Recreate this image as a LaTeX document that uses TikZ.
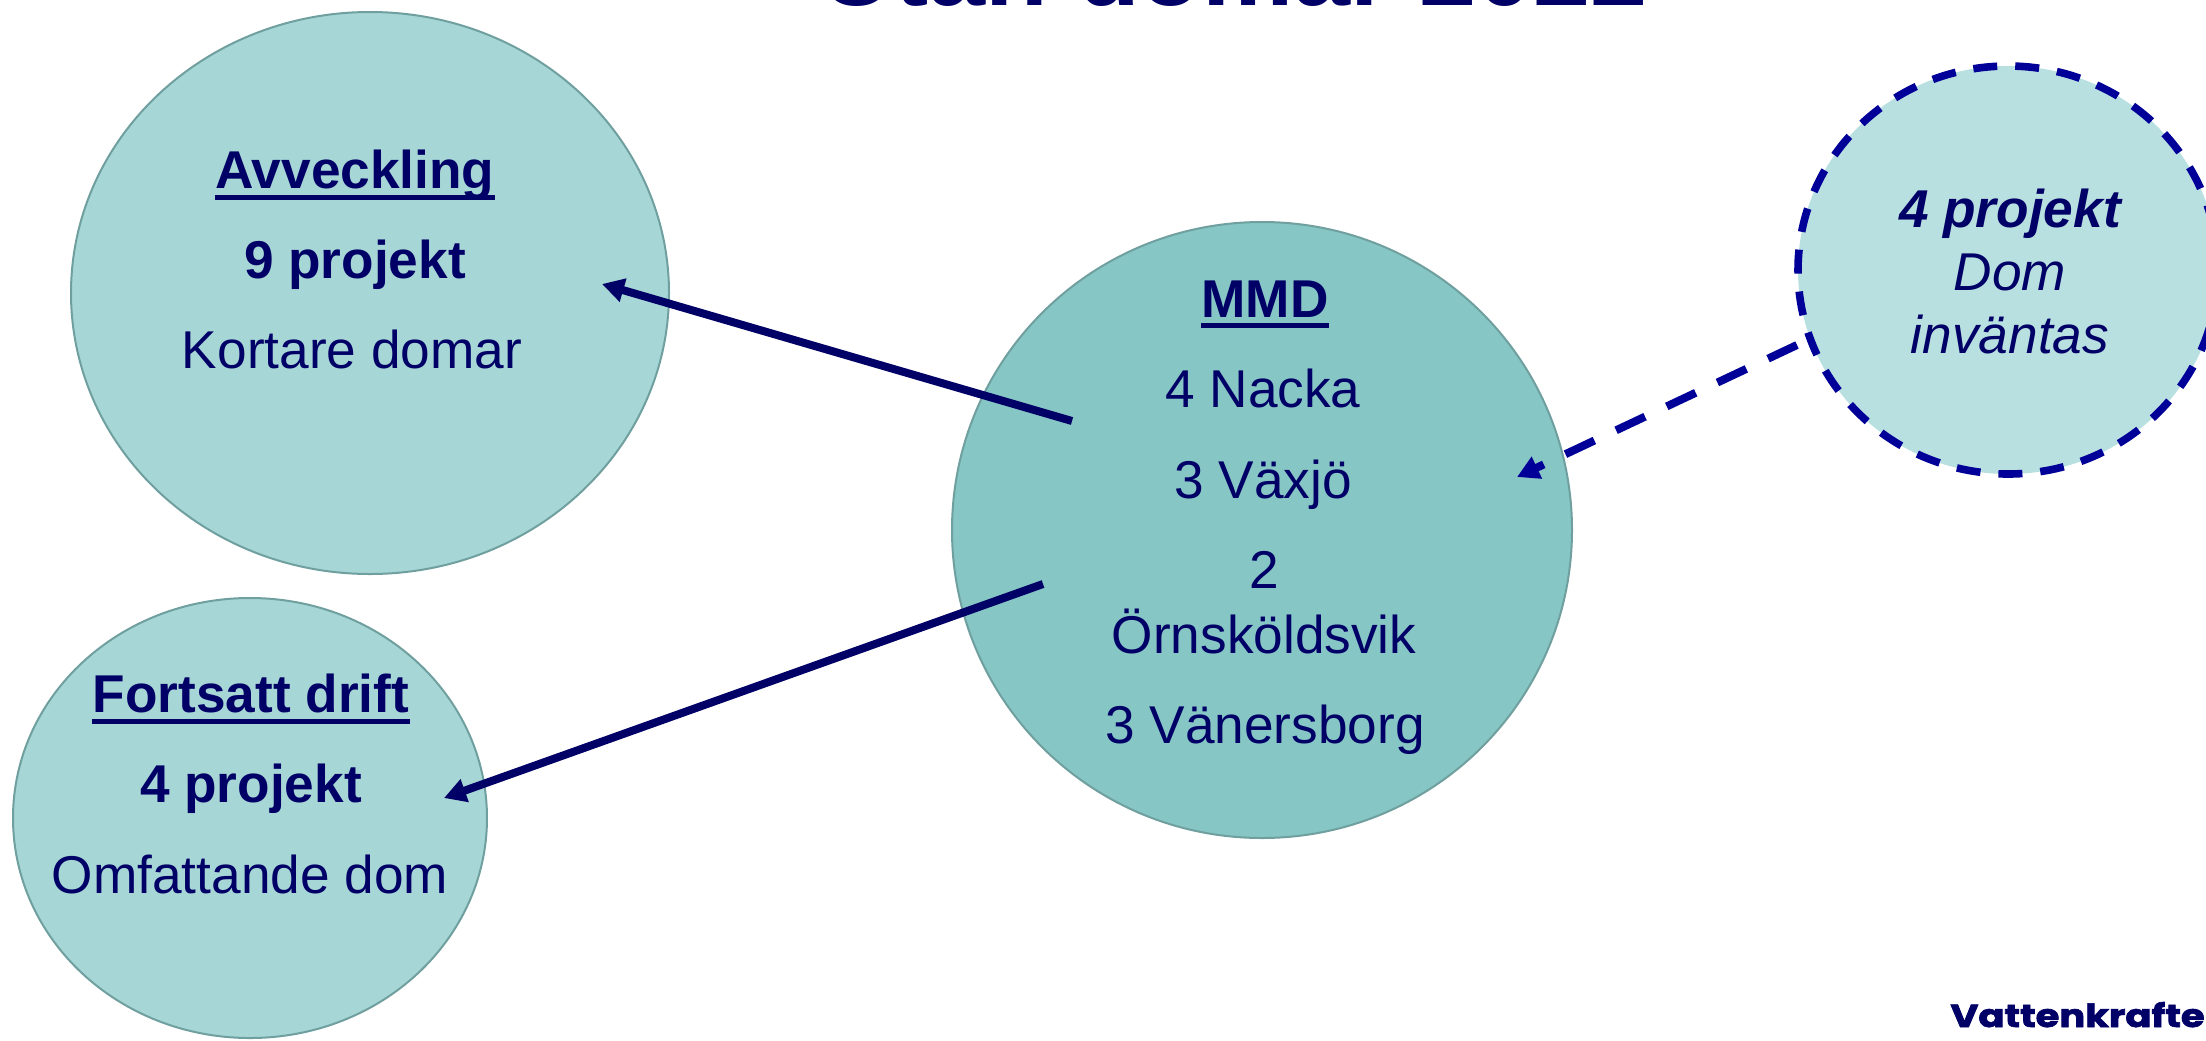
\documentclass[tikz,border=0pt]{standalone}
\usepackage{fontspec}
\setmainfont{Liberation Sans}
\newfontfamily\logofont[FakeBold=2]{Poppins}
\usetikzlibrary{shapes.geometric,arrows.meta}
\definecolor{navy}{HTML}{000066}
\definecolor{dnavy}{HTML}{000099}
\definecolor{tealA}{HTML}{A7D6D6}
\definecolor{tealB}{HTML}{86C6C5}
\definecolor{tealC}{HTML}{B9E0E0}
\definecolor{rim}{HTML}{6F9F9E}
\begin{document}
\begin{tikzpicture}[x=0.5pt,y=-0.5pt,
  blob/.style={ellipse, draw=rim, line width=1pt, inner sep=0pt},
  txt/.style={inner sep=0pt, anchor=base, text=navy, font=\fontsize{26.6}{31}\selectfont},
  btxt/.style={txt, font=\fontsize{26.6}{31}\selectfont\bfseries},
  itxt/.style={txt, font=\fontsize{26.6}{31}\selectfont\itshape},
  bitxt/.style={txt, font=\fontsize{26.6}{31}\selectfont\bfseries\itshape},
  uline/.style={draw=navy, line width=2.5pt},
  link/.style={draw=navy, line width=4pt, -{Triangle[length=11pt,width=11.5pt]}},
  dlink/.style={draw=dnavy, line width=4pt, dash pattern=on 16pt off 12pt, -{Triangle[length=11pt,width=11.5pt]}},
]
\useasboundingbox (0,0) rectangle (2206,1040);
\clip (0,0) rectangle (2206,1040);

% title (cut off at the top)
\node[inner sep=0pt, anchor=base, text=navy, font=\fontsize{51.3}{60}\selectfont\bfseries] (title) at (1234,5) {Utan domar 2022};

% circles
\node[blob, fill=tealA, minimum width=299pt, minimum height=281pt] (avv) at (370,293) {};
\node[blob, fill=tealA, minimum width=237pt, minimum height=220pt] (fort) at (250,818) {};
\node[blob, fill=tealB, minimum width=310pt, minimum height=308pt] (mmd) at (1262,530) {};
\node[ellipse, inner sep=0pt, fill=tealC, draw=dnavy, line width=3.8pt, dash pattern=on 12pt off 9pt, minimum width=210pt, minimum height=204pt] (dom) at (2008,270) {};

% Avveckling texts
\node[btxt] (tavv) at (355,188) {Avveckling};
\draw[uline] ([yshift=-4.5pt]tavv.base west) -- ([yshift=-4.5pt]tavv.base east);
\node[btxt] (tavv2) at (355,278) {9 projekt};
\node[txt] (tavv3) at (352,368) {Kortare domar};

% Fortsatt drift texts
\node[btxt] (tfort) at (251,712) {Fortsatt drift};
\draw[uline] ([yshift=-4.5pt]tfort.base west) -- ([yshift=-4.5pt]tfort.base east);
\node[btxt] (tfort2) at (251,802) {4 projekt};
\node[txt] (tfort3) at (250,893) {Omfattande dom};

% MMD texts
\node[btxt] (tmmd) at (1265,317) {MMD};
\draw[uline] ([yshift=-4.25pt]tmmd.base west) -- ([yshift=-4.25pt]tmmd.base east);
\node[txt] (tm1) at (1263,407) {4 Nacka};
\node[txt] (tm2) at (1263,498) {3 Växjö};
\node[txt] (tm3) at (1264,588) {2};
\node[txt] (tm4) at (1264,653) {Örnsköldsvik};
\node[txt] (tm5) at (1265,743) {3 Vänersborg};

% dashed circle texts
\node[bitxt] (td1) at (2010,227) {4 projekt};
\node[itxt] (td2) at (2010,290) {Dom};
\node[itxt] (td3) at (2010,353) {inväntas};

% connectors
\coordinate (a1s) at (1072,421);
\coordinate (a1e) at (602,284);
\coordinate (a2s) at (1043,584);
\coordinate (a2e) at (444,798);
\coordinate (a3s) at (1797,345);
\coordinate (a3e) at (1517,477);
\draw[link] (a1s) -- (a1e);
\draw[link] (a2s) -- (a2e);
\draw[dlink] (a3s) -- (a3e);

% logo
\node[inner sep=0pt, anchor=base west, text=navy] (logo) at (1950,1027) {\resizebox{140pt}{12.5pt}{\logofont\bfseries Vattenkraften}};
\end{tikzpicture}
\end{document}
